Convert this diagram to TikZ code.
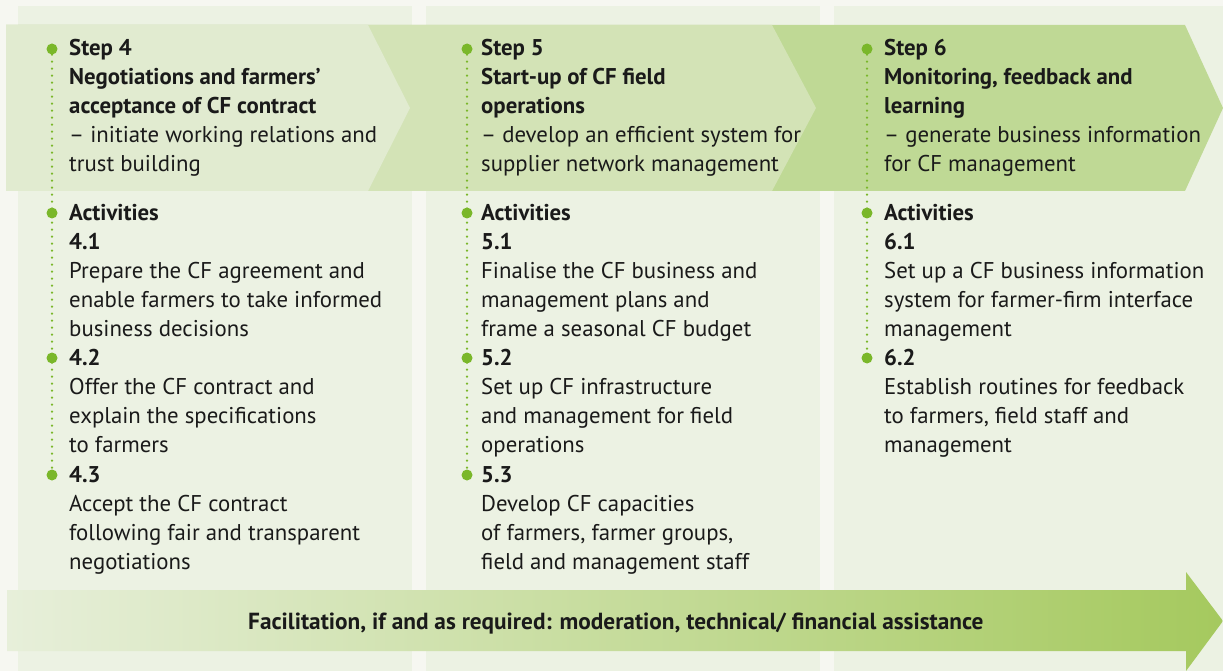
\documentclass[tikz,border=0pt]{standalone}
\usepackage{fontspec}
\setmainfont{PT Sans}
\usepackage{tikz}
\usetikzlibrary{positioning}
\definecolor{pagebg}{HTML}{F6F7F1}
\definecolor{panelbg}{HTML}{ECF2E3}
\definecolor{chevA}{HTML}{E1EBD0}
\definecolor{chevB}{HTML}{D3E3B6}
\definecolor{chevC}{HTML}{BFD995}
\definecolor{arrowL}{HTML}{E7EFDA}
\definecolor{arrowR}{HTML}{A5C95E}
\definecolor{dotgreen}{HTML}{7AB72A}
\definecolor{textblack}{HTML}{1A1A1A}

\begin{document}
\begin{tikzpicture}[x=1pt, y=-1pt,
    % text blocks sit on the baseline of their last line
    txt/.style={anchor=base west, align=left, inner sep=0pt, text=textblack, font=\fontsize{22.8}{29}\selectfont},
    bulletdot/.style={circle, fill=dotgreen, inner sep=0pt, minimum size=11pt},
    dotline/.style={dotgreen, line width=2.5pt, line cap=round, dash pattern=on 0pt off 7pt}]
    % Background and columns
    \fill[pagebg] (0,0) rectangle (1223,671);
    \useasboundingbox (0,0) rectangle (1223,671);
    \fill[panelbg] (18,6) rectangle (412,671);
    \fill[panelbg] (426,6) rectangle (820,671);
    \fill[panelbg] (834,6) rectangle (1223,671);

    % Step chevrons
    \fill[chevC] (6,25) -- (1185,25) -- (1223,108) -- (1185,191) -- (6,191) -- cycle;
    \fill[chevB] (6,25) -- (772,25) -- (816,108) -- (772,191) -- (6,191) -- cycle;
    \fill[chevA] (6,25) -- (368,25) -- (410,108) -- (368,191) -- (6,191) -- cycle;

    % Facilitation arrow
    \shade[left color=arrowL, right color=arrowR] (7,590) -- (1186,590) -- (1186,572) -- (1223,621)
        -- (1186,671) -- (1186,651) -- (7,651) -- cycle;
    \node[txt, font=\fontsize{23.3}{29}\selectfont\bfseries] (facil) at (248,629)
        {Facilitation, if and as required: moderation, technical/ financial assistance};

    % Step 4
    \node[bulletdot] (b4s) at (52,49) {};
    \node[bulletdot] (b4a) at (52,213) {};
    \node[bulletdot] (b42) at (52,358) {};
    \node[bulletdot] (b43) at (52,475) {};
    \draw[dotline] (b4s) -- (b43);
    \node[txt] (s4) at (69,172) {\textbf{Step 4}\\\textbf{Negotiations and farmers’}\\\textbf{acceptance of CF contract}\\
        – initiate working relations and\\trust building};
    \node[txt] (act4) at (69,336) {\textbf{Activities}\\\textbf{4.1}\\Prepare the CF agreement and\\
        enable farmers to take informed\\business decisions};
    \node[txt] (a42) at (69,452) {\textbf{4.2}\\Offer the CF contract and\\explain the specifications\\to farmers};
    \node[txt] (a43) at (69,569) {\textbf{4.3}\\Accept the CF contract\\following fair and transparent\\negotiations};

    % Step 5
    \node[bulletdot] (b5s) at (467,49) {};
    \node[bulletdot] (b5a) at (467,213) {};
    \node[bulletdot] (b52) at (467,358) {};
    \node[bulletdot] (b53) at (467,475) {};
    \draw[dotline] (b5s) -- (b53);
    \node[txt] (s5) at (481,172) {\textbf{Step 5}\\\textbf{Start-up of CF field}\\\textbf{operations}\\
        – develop an efficient system for\\supplier network management};
    \node[txt] (act5) at (481,336) {\textbf{Activities}\\\textbf{5.1}\\Finalise the CF business and\\
        management plans and\\frame a seasonal CF budget};
    \node[txt] (a52) at (481,452) {\textbf{5.2}\\Set up CF infrastructure\\and management for field\\operations};
    \node[txt] (a53) at (481,569) {\textbf{5.3}\\Develop CF capacities\\of farmers, farmer groups,\\field and management staff};

    % Step 6
    \node[bulletdot] (b6s) at (867,49) {};
    \node[bulletdot] (b6a) at (867,213) {};
    \node[bulletdot] (b62) at (867,358) {};
    \draw[dotline] (b6s) -- (b62);
    \node[txt] (s6) at (884,172) {\textbf{Step 6}\\\textbf{Monitoring, feedback and}\\\textbf{learning}\\
        – generate business information\\for CF management};
    \node[txt] (act6) at (884,336) {\textbf{Activities}\\\textbf{6.1}\\Set up a CF business information\\
        system for farmer-firm interface\\management};
    \node[txt] (a62) at (884,452) {\textbf{6.2}\\Establish routines for feedback\\to farmers, field staff and\\management};
\end{tikzpicture}
\end{document}
